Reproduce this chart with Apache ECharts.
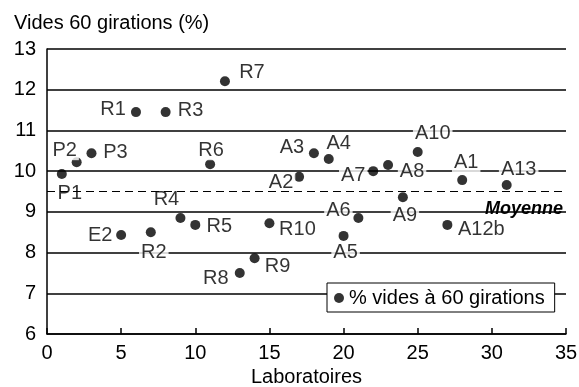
<!DOCTYPE html>
<html>
<head>
<meta charset="utf-8">
<script src="https://cdn.jsdelivr.net/npm/echarts@6/dist/echarts.min.js"></script>
<style>
  html, body { margin: 0; padding: 0; background: #fff; }
  #chart { width: 579px; height: 387px; }
</style>
</head>
<body>
<div id="chart"></div>
<script>
'use strict';

// laboratoires (nom, n° labo, % vides)
var labs = ['P1', 'P2', 'P3', 'E2', 'R1', 'R2', 'R3', 'R4', 'R5', 'R6', 'R7', 'R8', 'R9', 'R10',
    'A2', 'A3', 'A4', 'A5', 'A6', 'A7', 'A8', 'A9', 'A10', 'A12b', 'A1', 'A13'];
var xs = [1, 2, 3, 5, 6, 7, 8, 9, 10, 11, 12, 13, 14, 15,
    17, 18, 19, 20, 21, 22, 23, 24, 25, 27, 28, 31];
var ys = [9.93, 10.22, 10.44, 8.43, 11.45, 8.5, 11.45, 8.85, 8.68, 10.17, 12.21, 7.5, 7.86, 8.72,
    9.86, 10.44, 10.3, 8.41, 8.85, 10.0, 10.15, 9.36, 10.47, 8.68, 9.78, 9.66];
var moyenne = 9.5;

var xTicks = [0, 5, 10, 15, 20, 25, 30, 35];
var yTicks = [6, 7, 8, 9, 10, 11, 12, 13];

// décalage des étiquettes (centre du texte par rapport au point)
var labelOffset = {
    P1: [8, 19], P2: [-12, -12], P3: [24, -1], E2: [-21, 0],
    R1: [-23, -3], R2: [3, 20], R3: [25, -2], R4: [-14, -18], R5: [24, 2],
    R6: [1, -14], R7: [27, -9], R8: [-24, 6], R9: [23, 8], R10: [28, 6],
    A2: [-18, 6], A3: [-22, -6], A4: [10, -15], A5: [2, 17], A6: [-20, -7],
    A7: [-20, 4], A8: [24, 6], A9: [2, 18], A10: [15, -19], A12b: [34, 5],
    A1: [4, -18], A13: [12, -16]
};

var font = 'Liberation Sans, Arial, Helvetica, sans-serif';

var points = labs.map(function(name, i) {
    return {
        name: name,
        value: [xs[i], ys[i]],
        label: { offset: labelOffset[name] }
    };
});

var chart = echarts.init(document.getElementById('chart'), null, { renderer: 'canvas' });

var option = {
    backgroundColor: '#fff',
    animation: false,
    textStyle: { fontFamily: font, color: '#000' },
    title: {
        text: 'Vides 60 girations (%)',
        left: 9,
        top: 8,
        textStyle: { fontFamily: font, fontSize: 20, fontWeight: 'normal', color: '#000' }
    },
    legend: {
        data: ['% vides à 60 girations'],
        left: 327,
        top: 283,
        orient: 'horizontal',
        padding: [5, 10, 4, 7],
        borderColor: '#000',
        borderWidth: 1,
        borderRadius: 0,
        backgroundColor: '#fff',
        icon: 'circle',
        itemWidth: 10,
        itemHeight: 10,
        itemGap: 6,
        textStyle: { fontFamily: font, fontSize: 20, color: '#000' },
        z: 10
    },
    grid: { left: 47, right: 13, top: 49, bottom: 53, outerBoundsMode: 'none', containLabel: false },
    xAxis: {
        type: 'value',
        min: xTicks[0],
        max: xTicks[xTicks.length - 1],
        interval: 5,
        name: 'Laboratoires',
        nameLocation: 'middle',
        nameGap: 32,
        nameTextStyle: { fontFamily: font, fontSize: 20, color: '#000' },
        axisLine: { show: true, lineStyle: { color: '#000', width: 1.5 } },
        axisTick: { show: true, inside: true, length: 6, lineStyle: { color: '#000', width: 1.5 } },
        axisLabel: { fontFamily: font, fontSize: 20, color: '#000', margin: 9 },
        splitLine: { show: false }
    },
    yAxis: {
        type: 'value',
        min: yTicks[0],
        max: yTicks[yTicks.length - 1],
        interval: 1,
        axisLine: { show: true, lineStyle: { color: '#000', width: 1.5 } },
        axisTick: { show: false },
        axisLabel: { fontFamily: font, fontSize: 20, color: '#000', margin: 11, padding: [0, 0, 8, 0] },
        splitLine: { show: true, lineStyle: { color: '#000', width: 1.5, type: 'solid' } }
    },
    series: [{
        name: 'Moyenne',
        type: 'line',
        data: [],
        z: 2,
        silent: true,
        markLine: {
            silent: true,
            symbol: 'none',
            lineStyle: { color: '#000', width: 1.2, type: [8, 5] },
            label: {
                show: true,
                position: 'insideEndBottom',
                formatter: 'Moyenne',
                fontFamily: font,
                fontSize: 18,
                fontStyle: 'italic',
                fontWeight: 'bold',
                color: '#000',
                distance: [3, 9]
            },
            data: [{ yAxis: moyenne }]
        }
    }, {
        name: '% vides à 60 girations',
        type: 'scatter',
        z: 3,
        symbol: 'circle',
        symbolSize: 10,
        itemStyle: { color: '#000' },
        label: {
            show: true,
            position: 'inside',
            formatter: '{b}',
            fontFamily: font,
            fontSize: 20,
            color: '#000',
            backgroundColor: '#fff',
            padding: [0, 2]
        },
        emphasis: { disabled: true },
        data: points
    }]
};

chart.setOption(option);
</script>
</body>
</html>
